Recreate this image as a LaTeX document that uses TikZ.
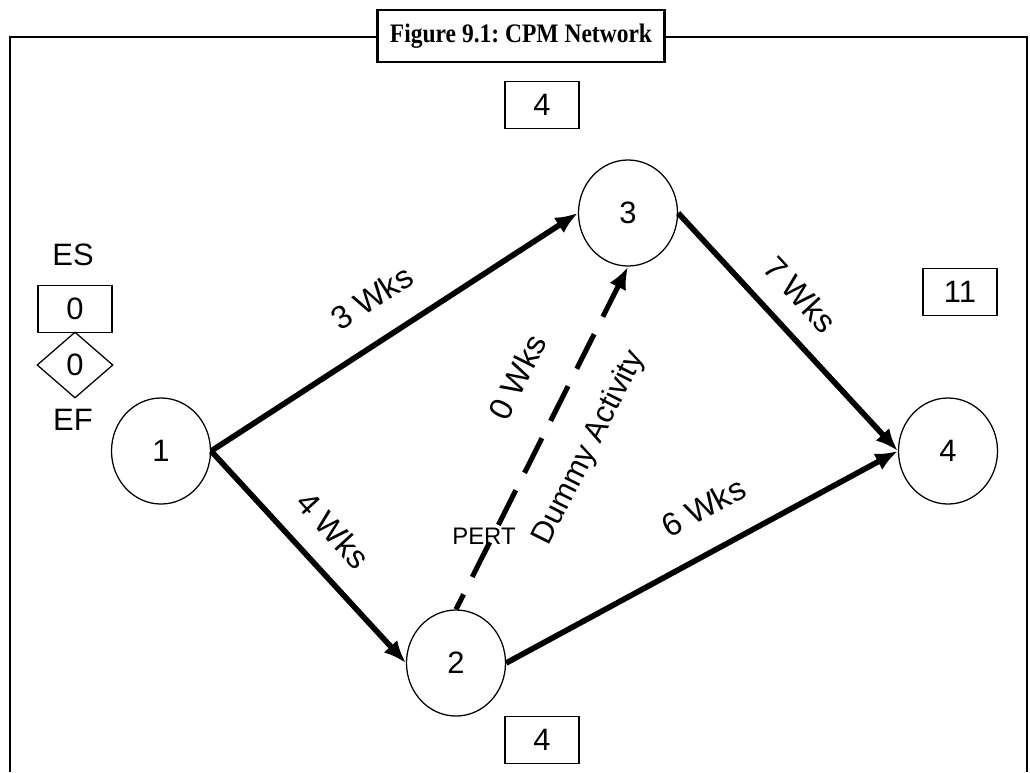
\documentclass[tikz,border=0pt]{standalone}
\usepackage{fontspec}
\setmainfont{Liberation Sans}
\newfontfamily\titlefont[FakeStretch=0.88]{Liberation Serif}
\usetikzlibrary{arrows.meta,shapes.geometric}

\begin{document}
\begin{tikzpicture}[x=0.025cm, y=-0.025cm,
  every node/.style={font=\fontsize{22}{26}\selectfont, align=center},
  event/.style={draw, ellipse, line width=0.9pt, minimum width=2.475cm, minimum height=2.65cm, inner sep=0pt},
  timebox/.style={draw, line width=0.9pt, minimum width=1.85cm, minimum height=1.175cm, inner sep=0pt},
  activity/.style={-{Latex[length=16pt,width=13pt]}, line width=4pt},
  dummy/.style={activity, line width=3.6pt, dash pattern=on 27.6pt off 13.8pt, dash phase=15.6pt},
  lbl/.style={font=\fontsize{23}{26}\selectfont, inner sep=0pt, sloped}]
  \useasboundingbox (0,0) rectangle (1030,772);
  % frame and caption
  \draw[line width=2.1pt] (10,772) -- (10,37) -- (1027,37) -- (1027,772);
  \node[draw, fill=white, line width=2.1pt, minimum width=7.15cm, minimum height=1.3cm, font=\titlefont\bfseries\fontsize{19}{22}\selectfont\frenchspacing] (title) at (521,36) {Figure 9.1: CPM Network};
  % events
  \node[event] (ev1) at (161,451) {1};
  \node[event] (ev2) at (456,663) {2};
  \node[event] (ev3) at (628,213) {3};
  \node[event] (ev4) at (948,451) {4};
  % times
  \node[timebox] (t3) at (542,105) {4};
  \node[timebox] (t2) at (542,740) {4};
  \node[timebox] (t4) at (960,292) {11};
  \node[timebox] (es) at (75,309) {0};
  \node[draw, diamond, line width=0.9pt, minimum width=1.9cm, minimum height=1.65cm, inner sep=0pt] (ef) at (75,365) {0};
  \node (esl) at (73,255) {ES};
  \node (efl) at (73,420) {EF};
  % activities
  \draw[activity] (ev1.east) -- node[lbl, pos=0.5, above=0.67cm] {3 Wks} (ev3.west);
  \draw[activity] (ev1.east) -- node[lbl, pos=0.49, above=0.55cm] {4 Wks} (ev2.west);
  \draw[activity] (ev2.east) -- node[lbl, pos=0.556, above=0.71cm] {6 Wks} (ev4.west);
  \draw[activity] (ev3.east) -- node[lbl, pos=0.44, above=0.5cm] {7 Wks} (ev4.west);
  \draw[dummy] (ev2.north) -- node[lbl, pos=0.614, above=0.87cm] {0 Wks}
    node[lbl, pos=0.532, below=0.75cm, font=\fontsize{22}{26}\selectfont] {Dummy Activity} (ev3.south);
  \node[font=\fontsize{17}{20}\selectfont] (pert) at (484,536) {PERT};
\end{tikzpicture}
\end{document}
